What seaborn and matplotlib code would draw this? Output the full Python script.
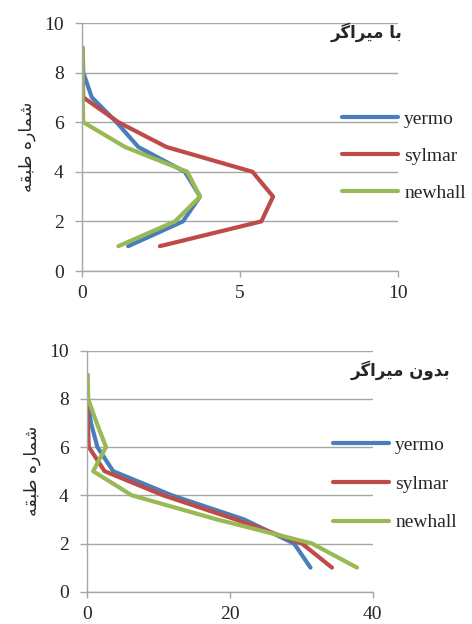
import numpy as np
import pandas as pd
import matplotlib
matplotlib.use("Agg")
import matplotlib.pyplot as plt
from matplotlib.lines import Line2D
import seaborn as sns

# ---------------- data ----------------
stories = [1, 2, 3, 4, 5, 6, 7, 8, 9]
records = ["yermo", "sylmar", "newhall"]

# with damper (top panel)
yermo_top = [1.47, 3.20, 3.74, 3.26, 1.79, 1.10, 0.32, 0.05, 0.03]
sylmar_top = [2.47, 5.68, 6.05, 5.40, 2.68, 1.16, 0.05, 0.03, 0.03]
newhall_top = [1.16, 2.95, 3.74, 3.34, 1.37, 0.05, 0.03, 0.03, 0.03]

# without damper (bottom panel)
yermo_bot = [31.3, 29.0, 22.0, 11.9, 3.7, 1.5, 0.6, 0.1, 0.1]
sylmar_bot = [34.3, 30.1, 20.8, 10.7, 2.5, 0.3, 0.15, 0.05, 0.05]
newhall_bot = [37.8, 31.5, 18.2, 6.3, 0.9, 2.7, 1.4, 0.2, 0.15]

title_top = "با میراگر"
title_bot = "بدون میراگر"
ylabel_txt = "شماره طبقه"

colors = ["#4A7EBB", "#BE4B48", "#98B954"]

# ---------------- Persian shaping (presentation forms, visual order) ----------------
FORMS = {
    'ب': ('\uFE8F', '\uFE90', '\uFE91', '\uFE92'),
    'ا': ('\uFE8D', '\uFE8E', None, None),
    'م': ('\uFEE1', '\uFEE2', '\uFEE3', '\uFEE4'),
    'ی': ('\uFBFC', '\uFBFD', '\uFBFE', '\uFBFF'),
    'ر': ('\uFEAD', '\uFEAE', None, None),
    'گ': ('\uFB92', '\uFB93', '\uFB94', '\uFB95'),
    'د': ('\uFEA9', '\uFEAA', None, None),
    'و': ('\uFEED', '\uFEEE', None, None),
    'ن': ('\uFEE5', '\uFEE6', '\uFEE7', '\uFEE8'),
    'ش': ('\uFEB5', '\uFEB6', '\uFEB7', '\uFEB8'),
    'ه': ('\uFEE9', '\uFEEA', '\uFEEB', '\uFEEC'),
    'ط': ('\uFEC1', '\uFEC2', '\uFEC3', '\uFEC4'),
    'ق': ('\uFED5', '\uFED6', '\uFED7', '\uFED8'),
}


def shape(s):
    words = []
    for word in s.split(' '):
        ch = list(word)
        res = []
        for i, c in enumerate(ch):
            f = FORMS[c]
            prev_j = i > 0 and FORMS[ch[i - 1]][2] is not None
            next_j = i < len(ch) - 1 and f[2] is not None
            if prev_j and next_j:
                g = f[3]
            elif prev_j:
                g = f[1]
            elif next_j:
                g = f[2]
            else:
                g = f[0]
            res.append(g)
        words.append(''.join(res))
    return ' '.join(words)[::-1]


# ---------------- style ----------------
sns.set_style("white")
plt.rcParams['font.family'] = ['Liberation Serif', 'DejaVu Sans']
plt.rcParams['font.size'] = 14

W, H = 472, 624
fig = plt.figure(figsize=(W / 100, H / 100), dpi=100)

gray = "#A6A6A6"
LW = 3.0


def make_df(vals):
    rows = []
    for r, v in zip(records, vals):
        for s, x in zip(stories, v):
            rows.append({"story": s, "value": x, "record": r})
    return pd.DataFrame(rows)


def panel(rect, vals, xmax, xticks, title, title_xy, leg_xy, lspace):
    ax = fig.add_axes(rect)
    df = make_df(vals)
    sns.lineplot(data=df, x="value", y="story", hue="record", palette=colors,
                 orient="y", estimator=None, linewidth=LW, ax=ax,
                 legend=False)
    ax.set_xlim(0, xmax)
    ax.set_ylim(0, 10)
    ax.set_xticks(xticks)
    ax.set_yticks([0, 2, 4, 6, 8, 10])
    ax.yaxis.grid(True, color=gray, linewidth=1.0)
    ax.xaxis.grid(False)
    ax.set_axisbelow(True)
    for side in ["top", "right"]:
        ax.spines[side].set_visible(False)
    for side in ["left", "bottom"]:
        ax.spines[side].set_color(gray)
        ax.spines[side].set_linewidth(1.0)
    ax.tick_params(axis="y", length=5, width=1, color=gray, pad=8,
                   labelsize=14, left=True)
    ax.tick_params(axis="x", length=4, width=1, color=gray, pad=6,
                   labelsize=14, bottom=True)
    ax.set_xlabel("")
    ax.set_ylabel(shape(ylabel_txt), family=['DejaVu Sans'], fontsize=12.5,
                  labelpad=6)
    fig.text(title_xy[0] / W, 1 - title_xy[1] / H, shape(title),
             family=['DejaVu Sans'], fontsize=12, fontweight='bold',
             ha='right', va='center')
    handles = [Line2D([], [], color=c, linewidth=LW) for c in colors]
    ax.legend(handles, records, loc='center left',
              bbox_to_anchor=(leg_xy[0] / W, 1 - leg_xy[1] / H),
              bbox_transform=fig.transFigure, frameon=False,
              borderpad=0, borderaxespad=0, handlelength=2.9,
              handletextpad=0.3, labelspacing=lspace,
              prop={'family': 'Liberation Serif', 'size': 14})
    return ax


panel([81.7 / W, 1 - 271 / H, (398 - 81.7) / W, (271 - 23) / H],
      [yermo_top, sylmar_top, newhall_top], 10, [0, 5, 10],
      title_top, (402, 32), (342, 156), 1.0)

panel([86.7 / W, 1 - 591.7 / H, (372.7 - 86.7) / W, (591.7 - 350.7) / H],
      [yermo_bot, sylmar_bot, newhall_bot], 40, [0, 20, 40],
      title_bot, (450, 370), (333, 484), 1.08)

fig.savefig("out.png", dpi=100)
